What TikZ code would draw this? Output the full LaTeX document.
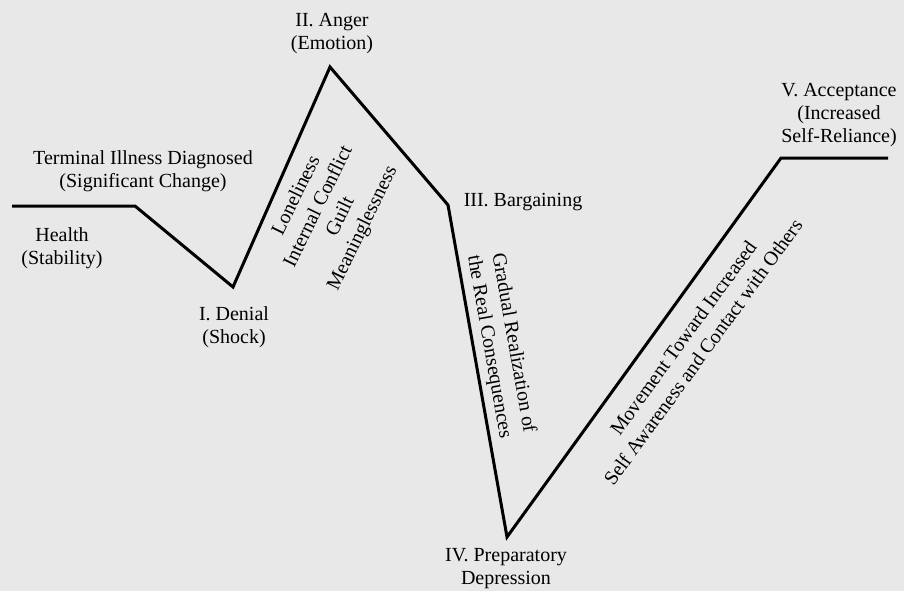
\documentclass[tikz,border=0pt]{standalone}
\usepackage{fontspec}
\setmainfont{Liberation Serif}
\usetikzlibrary{positioning}

\begin{document}
\begin{tikzpicture}[x=1pt, y=-1pt,
    stage/.style={align=center, inner sep=0pt, font=\fontsize{20}{23}\selectfont},
    phase/.style={align=center, inner sep=0pt, font=\fontsize{20}{24.5}\selectfont},
    curve/.style={line width=3pt, line join=miter, line cap=butt}
]
%% canvas
\fill[gray!18] (0,0) rectangle (904,591);
\useasboundingbox (0,0) rectangle (904,591);
%% turning points of the curve
\coordinate (health) at (12, 206);
\coordinate (diag)   at (135, 206);
\coordinate (denial) at (233, 287);
\coordinate (anger)  at (330, 67);
\coordinate (barg)   at (448, 205);
\coordinate (depr)   at (507, 537);
\coordinate (accept) at (781, 158);
\coordinate (stop)   at (888, 158);
\draw[curve] (health) -- (diag) -- (denial) -- (anger) -- (barg)
    -- (depr) -- (accept) -- (stop);
%% stage labels
\node[stage] (lhealth) at (62, 248)  {Health\\(Stability)};
\node[stage] (ldiag)   at (143, 171) {Terminal Illness Diagnosed\\(Significant Change)};
\node[stage] (ldenial) at (234, 327) {I. Denial\\(Shock)};
\node[stage] (langer)  at (332, 34)  {II. Anger\\(Emotion)};
\node[stage] (lbarg)   at (523, 202) {III. Bargaining};
\node[stage] (ldepr)   at (506, 569) {IV. Preparatory\\Depression};
\node[stage] (laccept) at (839, 115) {V. Acceptance\\(Increased\\Self-Reliance)};
%% slanted labels along the segments
\node[phase, rotate=64]  (feel) at (330, 212)
    {Loneliness\\Internal Conflict\\Guilt\\Meaninglessness};
\node[phase, rotate=-80] (real) at (501, 345)
    {Gradual Realization of\\the Real Consequences};
\node[phase, rotate=54]  (move) at (693, 345)
    {Movement Toward Increased\\Self Awareness and Contact with Others};
\end{tikzpicture}
\end{document}
